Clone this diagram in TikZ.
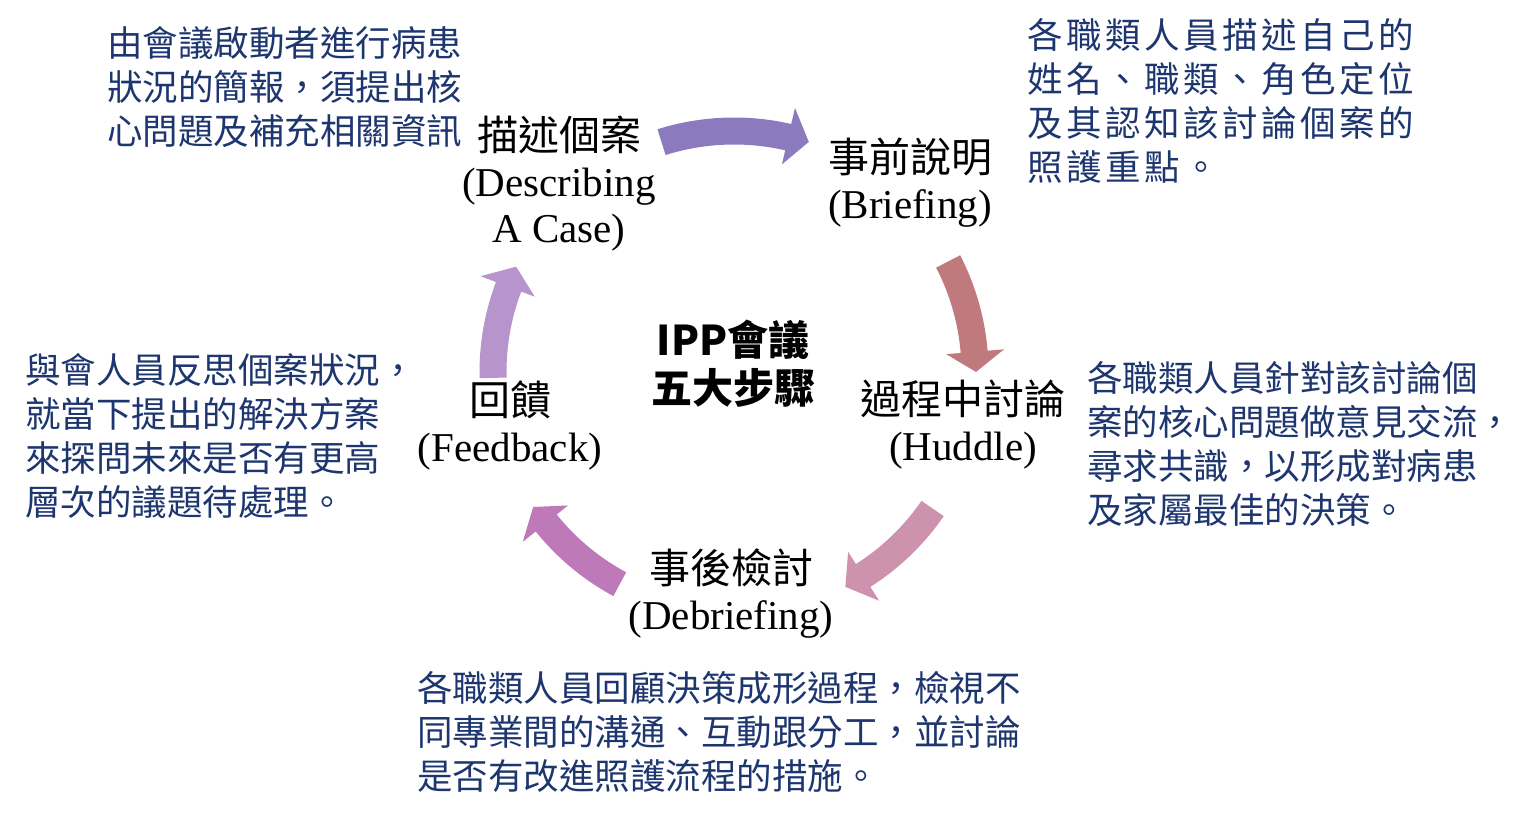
\documentclass[tikz,border=0pt]{standalone}
\usepackage{fontspec}
\setmainfont{Liberation Serif}
\newfontfamily\cjk[Script=CJK,Language=Chinese Traditional]{Noto Sans CJK TC}
\usetikzlibrary{calc}
\definecolor{arrowA}{RGB}{139,123,190}
\definecolor{arrowB}{RGB}{192,122,126}
\definecolor{arrowC}{RGB}{204,146,174}
\definecolor{arrowD}{RGB}{190,122,184}
\definecolor{arrowE}{RGB}{184,148,204}
\definecolor{noteblue}{RGB}{30,54,112}
\newcommand{\cyclearrow}[4]{%
  \fill[#1] ($(C)+(#2:254.5)$) arc[start angle=#2, end angle=#3, radius=254.5]
    -- ($(C)+(#3:271)$) -- ($(C)+(#4:242)$) -- ($(C)+(#3:213)$) -- ($(C)+(#3:227.5)$)
    arc[start angle=#3, end angle=#2, radius=227.5] -- cycle;}
\begin{document}
\begin{tikzpicture}[x=0.5pt, y=0.5pt, inner sep=0pt]
      \tikzstyle{stage} = [align=center, font=\fontsize{20.5}{23}\selectfont]
      \tikzstyle{note} = [anchor=west, align=left, text=noteblue, font=\cjk\fontsize{17.75}{22}\selectfont]
      \useasboundingbox (0,0) rectangle (1536,-822);
      \coordinate (C) at (734,-372);
      \cyclearrow{arrowA}{107.5}{77}{72}
      \cyclearrow{arrowB}{27.3}{4.8}{0}
      \cyclearrow{arrowC}{-34.5}{-57.6}{-62.6}
      \cyclearrow{arrowD}{-118.3}{-141.2}{-146.1}
      \cyclearrow{arrowE}{181.4}{159.3}{154.2}
      \node (describing) [stage] at (559,-184) {{\cjk 描述個案}\\(Describing\\A Case)};
      \node (briefing) [stage] at (910,-183) {{\cjk 事前說明}\\(Briefing)};
      \node (huddle) [stage] at (963,-425) {{\cjk 過程中討論}\\(Huddle)};
      \node (debriefing) [stage] at (731,-594) {{\cjk 事後檢討}\\(Debriefing)};
      \node (feedback) [stage] at (510,-425) {{\cjk 回饋}\\(Feedback)};
      \node (ipp) [align=center, font=\cjk\bfseries\fontsize{20.5}{24}\selectfont] at (733,-364) {IPP會議\\五大步驟};
      \node (describingnote) [note] at (107,-87) {由會議啟動者進行病患\\狀況的簡報，須提出核\\心問題及補充相關資訊};
      \node (briefingnote) [note, font={\cjk\addfontfeatures{LetterSpace=10}\fontsize{17.75}{22}\selectfont}] at (1027,-101) {各職類人員描述自己的\\姓名、職類、角色定位\\及其認知該討論個案的\\照護重點。};
      \node (huddlenote) [note] at (1087,-444) {各職類人員針對該討論個\\案的核心問題做意見交流，\\尋求共識，以形成對病患\\及家屬最佳的決策。};
      \node (feedbacknote) [note] at (25,-436) {與會人員反思個案狀況，\\就當下提出的解決方案\\來探問未來是否有更高\\層次的議題待處理。};
      \node (debriefingnote) [note] at (417,-732) {各職類人員回顧決策成形過程，檢視不\\同專業間的溝通、互動跟分工，並討論\\是否有改進照護流程的措施。};
    \end{tikzpicture}
\end{document}
